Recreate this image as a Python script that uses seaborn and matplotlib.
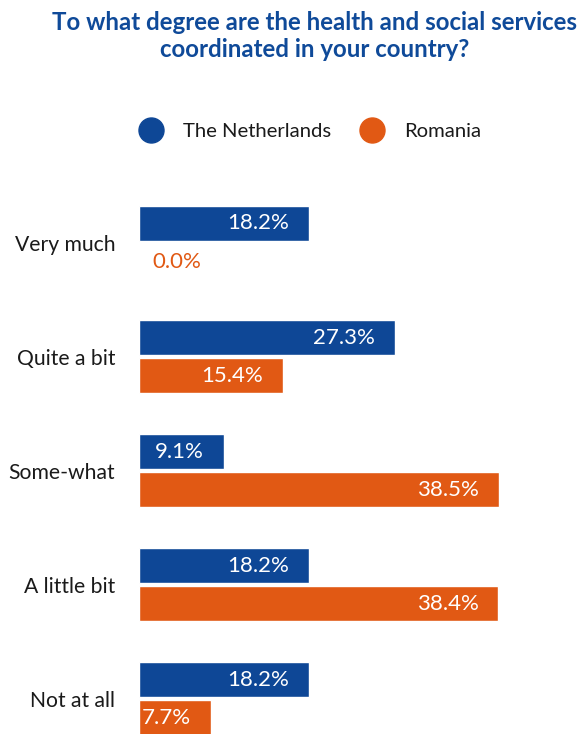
import matplotlib
matplotlib.use("Agg")
import matplotlib.pyplot as plt
import seaborn as sns
import pandas as pd
from matplotlib.lines import Line2D

categories = ["Very much", "Quite a bit", "Some-what", "A little bit", "Not at all"]
netherlands = [18.2, 27.3, 9.1, 18.2, 18.2]
romania = [0.0, 15.4, 38.5, 38.4, 7.7]
series_names = ["The Netherlands", "Romania"]
colors = ["#0e4796", "#e15914"]
title = "To what degree are the health and social services\ncoordinated in your country?"

df = pd.DataFrame({
    "category": categories * 2,
    "value": netherlands + romania,
    "country": [series_names[0]] * len(categories) + [series_names[1]] * len(categories),
})

sns.set_style("white")
plt.rcParams["font.family"] = ["Lato", "DejaVu Sans"]

W, H = 579, 734
fig = plt.figure(figsize=(W / 100, H / 100), dpi=100)
left_px, top_px = 139, 185.5
ax = fig.add_axes([left_px / W, 0, (W - left_px) / W, (H - top_px) / H])

sns.barplot(data=df, y="category", x="value", hue="country", order=categories,
            hue_order=series_names, palette=colors, orient="h", width=0.667,
            gap=0.079, saturation=1, ax=ax, legend=False)

ax.set_xlim(0, (W - left_px) / 9.36)
ax.set_ylim(4.311, -0.5)
for s in ax.spines.values():
    s.set_visible(False)
ax.set_xticks([])
ax.set_xlabel("")
ax.set_ylabel("")
ax.tick_params(axis="y", length=0, pad=17, labelsize=15.2, labelcolor="#1a1a1a")

for cont, col in zip(ax.containers, colors):
    for bar in cont:
        w = bar.get_width()
        yc = bar.get_y() + bar.get_height() / 2
        if w > 3:
            ax.annotate(f"{w:.1f}%", xy=(w, yc), xytext=(-20, 0), textcoords="offset pixels",
                        ha="right", va="center", color="white", fontsize=16)
        else:
            ax.annotate(f"{w:.1f}%", xy=(w, yc), xytext=(13, 0), textcoords="offset pixels",
                        ha="left", va="center", color=col, fontsize=16)

fig.text(315 / W, 1 - 11 / H, title, ha="center", va="top", fontsize=17.3,
         fontweight="bold", color="#0f4a99", linespacing=1.2)

handles = [Line2D([], [], marker="o", linestyle="none", markersize=18, color=c) for c in colors]
fig.legend(handles, series_names, loc="center", bbox_to_anchor=(309.5 / W, 1 - 131 / H),
           ncol=2, frameon=False, fontsize=14.6, handlelength=1.25, handletextpad=0.95,
           columnspacing=1.4, labelcolor="#1a1a1a")

fig.savefig("out.png", dpi=100)
